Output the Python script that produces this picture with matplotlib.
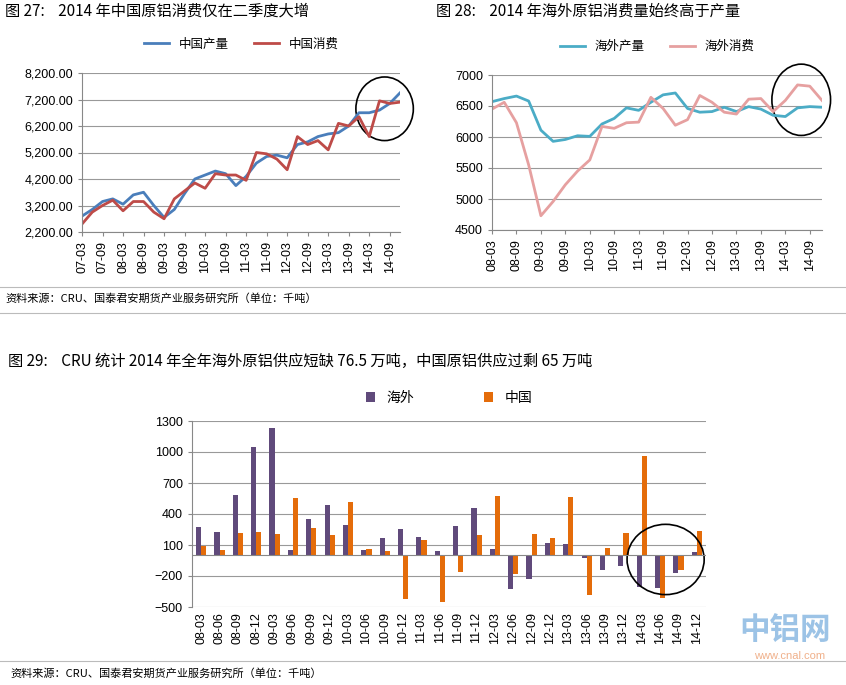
import matplotlib
matplotlib.use("Agg")
import matplotlib.pyplot as plt
import numpy as np

plt.rcParams["font.family"] = ["Liberation Sans", "Noto Sans CJK SC"]

# chart 27: China production / consumption, quarterly 07-03 .. 14-12
cn_q = [f"{y:02d}-{m:02d}" for y in range(7, 15) for m in (3, 6, 9, 12)]
cn_prod = [2800, 3050, 3350, 3450, 3250, 3600, 3700, 3200, 2750, 3050, 3650, 4200,
           4350, 4500, 4400, 3950, 4300, 4800, 5050, 5100, 5000, 5500, 5600, 5800,
           5900, 5950, 6200, 6700, 6700, 6800, 7050, 7450]
cn_cons = [2500, 2950, 3200, 3400, 3000, 3350, 3350, 2950, 2700, 3450, 3750, 4050,
           3850, 4400, 4350, 4350, 4150, 5200, 5150, 4950, 4550, 5800, 5500, 5650,
           5300, 6300, 6200, 6550, 5800, 7150, 7050, 7100]

# chart 28: overseas production / consumption, 08-03 .. 14-12
os_q = [f"{y:02d}-{m:02d}" for y in range(8, 15) for m in (3, 6, 9, 12)]
os_prod = [6570, 6620, 6660, 6580, 6110, 5930, 5960, 6020, 6010, 6210, 6300, 6470,
           6430, 6560, 6680, 6710, 6460, 6400, 6410, 6480, 6410, 6490, 6450, 6350,
           6330, 6470, 6490, 6480]
os_cons = [6450, 6560, 6230, 5550, 4730, 4960, 5230, 5450, 5630, 6170, 6140, 6230,
           6240, 6640, 6460, 6190, 6280, 6670, 6560, 6400, 6370, 6610, 6620, 6410,
           6590, 6840, 6820, 6590]

# chart 29: supply balance
bal_overseas = [270, 230, 580, 1050, 1230, 50, 350, 490, 290, 55, 170, 250, 180, 40,
                280, 460, 60, -330, -230, 120, 110, -30, -140, -100, -310, -320, -170, 30]
bal_china = [90, 50, 215, 225, 205, 550, 265, 200, 515, 65, 40, -420, 150, -450,
             -160, 195, 570, -180, 210, 165, 560, -380, 75, 215, 960, -410, -140, 240]

W, H = 846, 685
fig = plt.figure(figsize=(W / 100, H / 100), dpi=100)


def ax_px(x0, y0, x1, y1):
    return fig.add_axes([x0 / W, 1 - y1 / H, (x1 - x0) / W, (y1 - y0) / H])


def ftext(x, y, s, **kw):
    fig.text(x / W, 1 - y / H, s, **kw)


title_kw = dict(fontsize=11, fontfamily="Noto Sans CJK SC", va="center")
ftext(5, 11, "图 27:    2014 年中国原铝消费仅在二季度大增", **title_kw)
ftext(436, 11, "图 28:    2014 年海外原铝消费量始终高于产量", **title_kw)
ftext(8, 361, "图 29:    CRU 统计 2014 年全年海外原铝供应短缺 76.5 万吨，中国原铝供应过剩 65 万吨", **title_kw)
src_kw = dict(fontsize=8, fontfamily="Noto Sans CJK SC", va="center")
ftext(5, 298, "资料来源：CRU、国泰君安期货产业服务研究所（单位：千吨）", **src_kw)
ftext(10, 673, "资料来源：CRU、国泰君安期货产业服务研究所（单位：千吨）", **src_kw)
for yy in (287, 313, 661):
    fig.add_artist(plt.Line2D([0, 1], [1 - yy / H] * 2, color="#bbbbbb", lw=0.8))


def style(ax):
    for s in ("top", "right"):
        ax.spines[s].set_visible(False)
    ax.spines["left"].set_color("#888888")
    ax.spines["bottom"].set_color("#888888")
    ax.grid(axis="y", color="#999999", lw=0.8)
    ax.set_axisbelow(True)
    ax.tick_params(labelsize=9, length=3, color="#888888")


# chart 27
ax1 = ax_px(82, 73, 400, 232)
x1 = np.arange(len(cn_q))
ax1.plot(x1, cn_prod, color="#4a7ebb", lw=2, label="中国产量")
ax1.plot(x1, cn_cons, color="#be4b48", lw=2, label="中国消费")
ax1.set_ylim(2200, 8200)
ax1.set_yticks(range(2200, 8201, 1000))
ax1.set_yticklabels([f"{v:,.2f}" for v in range(2200, 8201, 1000)])
ax1.set_xlim(0, len(cn_q) - 1)
ax1.set_xticks(x1[::2])
ax1.set_xticklabels(cn_q[::2], rotation=90)
style(ax1)
ax1.legend(loc="lower center", bbox_to_anchor=(0.5, 1.07), ncol=2, frameon=False,
           prop={"family": "Noto Sans CJK SC", "size": 9}, handlelength=2)
ax1.add_patch(matplotlib.patches.Ellipse((29.5, 6850), 5.6, 2400, fill=False, lw=1.2, clip_on=False))

# chart 28
ax2 = ax_px(492, 75, 822, 230)
x2 = np.arange(len(os_q))
ax2.plot(x2, os_prod, color="#4bacc6", lw=2, label="海外产量")
ax2.plot(x2, os_cons, color="#e6a0a0", lw=2, label="海外消费")
ax2.set_ylim(4500, 7000)
ax2.set_yticks(range(4500, 7001, 500))
ax2.set_xlim(0, len(os_q) - 1)
ax2.set_xticks(x2[::2])
ax2.set_xticklabels(os_q[::2], rotation=90)
style(ax2)
ax2.legend(loc="lower center", bbox_to_anchor=(0.5, 1.07), ncol=2, frameon=False,
           prop={"family": "Noto Sans CJK SC", "size": 9}, handlelength=2)
ax2.add_patch(matplotlib.patches.Ellipse((25.3, 6600), 4.8, 1150, fill=False, lw=1.2, clip_on=False))

# chart 29
ax3 = ax_px(192, 421, 706, 607)
x3 = np.arange(len(os_q))
bw = 0.28
ax3.bar(x3 - bw / 2, bal_overseas, bw, color="#604a7b", label="海外")
ax3.bar(x3 + bw / 2, bal_china, bw, color="#e46c0a", label="中国")
ax3.set_ylim(-500, 1300)
ax3.set_yticks(range(-500, 1301, 300))
ax3.set_xlim(-0.5, len(os_q) - 0.5)
ax3.set_xticks(x3)
ax3.set_xticklabels(os_q, rotation=90)
ax3.axhline(0, color="#888888", lw=0.8)
style(ax3)
ax3.spines["bottom"].set_visible(False)
ax3.tick_params(axis="x", length=0)
ax3.legend(loc="lower center", bbox_to_anchor=(0.5, 1.02), ncol=2, frameon=False,
           prop={"family": "Noto Sans CJK SC", "size": 10}, handlelength=0.7,
           columnspacing=5)
ax3.add_patch(matplotlib.patches.Ellipse((25.3, -40), 4.2, 680, fill=False, lw=1.2, clip_on=False))

ftext(785, 630, "中铝网", fontsize=22, color="#9cc3e6", fontfamily="Noto Sans CJK SC",
      ha="center", va="center", fontweight="bold")
ftext(790, 656, "www.cnal.com", fontsize=8, color="#f0b08a", ha="center", va="center")

fig.savefig("out.png", dpi=100)
